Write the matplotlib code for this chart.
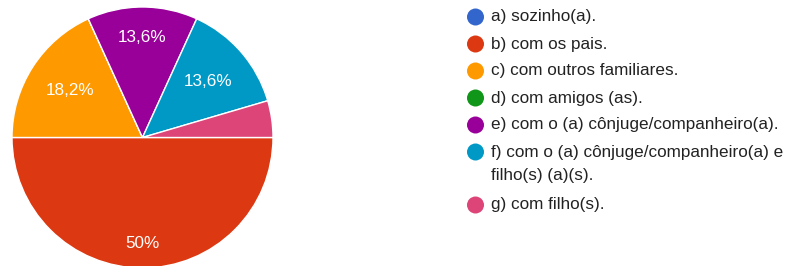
import numpy as np
import matplotlib.pyplot as plt

labels = [
    "a) sozinho(a).",
    "b) com os pais.",
    "c) com outros familiares.",
    "d) com amigos (as).",
    "e) com o (a) cônjuge/companheiro(a).",
    "f) com o (a) cônjuge/companheiro(a) e\nfilho(s) (a)(s).",
    "g) com filho(s).",
]
counts = [0, 11, 4, 0, 3, 3, 1]
colors = ["#3366cc", "#dc3912", "#ff9900", "#109618", "#990099", "#0099c6", "#dd4477"]

plt.rcParams['font.family'] = ['Liberation Sans', 'DejaVu Sans']

W, H = 790, 266
fig = plt.figure(figsize=(W / 100, H / 100), dpi=100)
ax = fig.add_axes([0, 0, 1, 1])

cx, cy, r = 142.5, H - 137.5, 130.5
wedges, _ = ax.pie(counts, colors=colors, startangle=0, counterclock=False,
                   center=(cx, cy), radius=r,
                   wedgeprops=dict(edgecolor="white", linewidth=1))
ax.set_xlim(0, W)
ax.set_ylim(0, H)
ax.set_aspect('equal')
ax.axis('off')

# percent labels inside the slices
total = sum(counts)
label_r = {1: 0.81, 2: 0.66, 4: 0.77, 5: 0.66}
for i, w in enumerate(wedges):
    if i not in label_r:
        continue
    pct = counts[i] / total * 100
    txt = f"{pct:.1f}".rstrip('0').rstrip('.').replace('.', ',') + "%"
    ang = np.deg2rad((w.theta1 + w.theta2) / 2)
    d = label_r[i] * r
    ax.text(cx + d * np.cos(ang), cy + d * np.sin(ang), txt, color="white",
            fontsize=12.3, ha="center", va="center")

# legend
y = H - 17
for lab, col in zip(labels, colors):
    ax.scatter([475.5], [y], s=150, color=col, edgecolors="none")
    for k, line in enumerate(lab.split("\n")):
        ax.text(491, y - 23.5 * k, line, fontsize=12.3, color="#222222", va="center")
    y -= 27 + 26 * lab.count("\n")

fig.savefig("out.png", dpi=100)
